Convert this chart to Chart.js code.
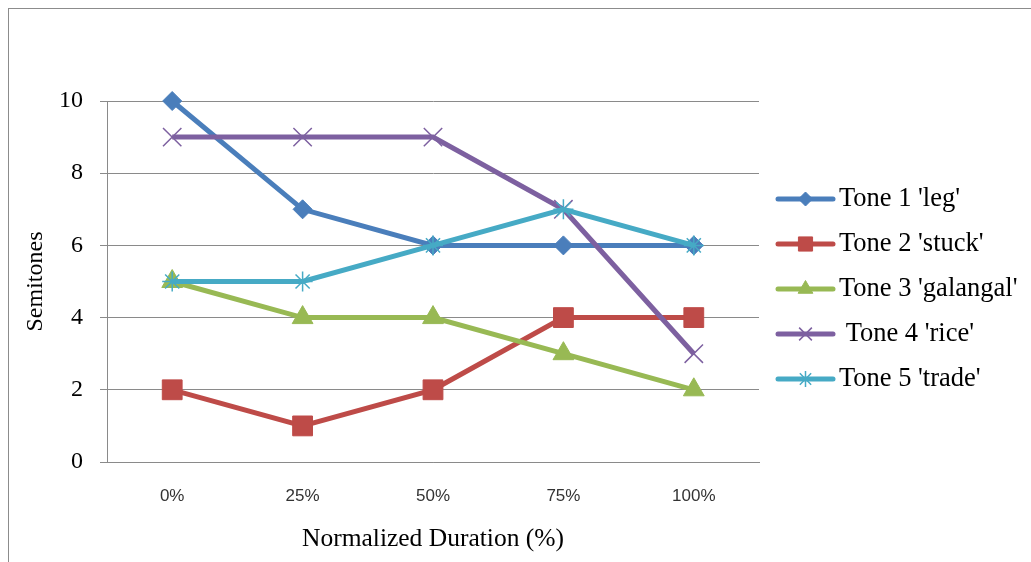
<!DOCTYPE html>
<html>
<head>
<meta charset="utf-8">
<script src="https://cdn.jsdelivr.net/npm/chart.js@4/dist/chart.umd.min.js"></script>
<style>
  html, body { margin: 0; padding: 0; background: #fff; }
  #wrap { width: 1031px; height: 562px; position: relative; }
</style>
</head>
<body>
<div id="wrap"><canvas id="c" width="1031" height="562"></canvas></div>
<script>
// Categories along the normalized duration axis
const durations = ['0%', '25%', '50%', '75%', '100%'];

// Pitch (semitones) for each tone
const tone1 = [10, 7, 6, 6, 6];
const tone2 = [2, 1, 2, 4, 4];
const tone3 = [5, 4, 4, 3, 2];
const tone4 = [9, 9, 9, 7, 3];
const tone5 = [5, 5, 6, 7, 6];

const toneLabels = ["Tone 1 'leg'", "Tone 2 'stuck'", "Tone 3 'galangal'", " Tone 4 'rice'", "Tone 5 'trade'"];
const yTicks = [0, 2, 4, 6, 8, 10];

const colors = ['#4A7EBB', '#BE4B48', '#98B954', '#7D60A0', '#46AAC5'];
const styles = [
  { pointStyle: 'rectRot', radius: 9.5, border: 1, legendRadius: 7 },
  { pointStyle: 'rect', radius: 14, border: 1, legendRadius: 10 },
  { pointStyle: 'triangle', radius: 12, border: 1, legendRadius: 8.5 },
  { pointStyle: 'crossRot', radius: 13, border: 1.5, legendRadius: 9 },
  { pointStyle: 'star', radius: 10, border: 1.5, legendRadius: 8 }
];
const series = [tone1, tone2, tone3, tone4, tone5];

const serif = '"Liberation Serif", "Times New Roman", serif';
const sans = '"Liberation Sans", Arial, sans-serif';
const gridGray = '#8a8a8a';

const datasets = series.map((vals, i) => ({
  label: toneLabels[i],
  data: vals,
  borderColor: colors[i],
  backgroundColor: colors[i],
  borderWidth: 5,
  tension: 0,
  pointStyle: styles[i].pointStyle,
  pointRadius: styles[i].radius,
  pointHoverRadius: styles[i].radius,
  pointBorderWidth: styles[i].border,
  pointBorderColor: colors[i],
  pointBackgroundColor: colors[i],
  clip: false,
  order: series.length - i
}));

// Frame around the whole figure and white backdrop
const framePlugin = {
  id: 'frame',
  beforeDraw(chart) {
    const ctx = chart.ctx;
    ctx.save();
    ctx.fillStyle = '#fff';
    ctx.fillRect(0, 0, chart.width, chart.height);
    ctx.strokeStyle = '#8c8c8c';
    ctx.lineWidth = 1;
    ctx.strokeRect(8.5, 8.5, chart.width + 20, chart.height + 20);
    ctx.restore();
  }
};

// Legend at the right: line segment with marker, then label
const sideLegend = {
  id: 'sideLegend',
  afterDraw(chart) {
    const ctx = chart.ctx;
    const x0 = 778, x1 = 833, textX = 839, y0 = 199, step = 45;
    ctx.save();
    chart.data.datasets.forEach((ds, i) => {
      const y = y0 + i * step;
      ctx.strokeStyle = colors[i];
      ctx.lineWidth = 5;
      ctx.lineCap = 'round';
      ctx.beginPath();
      ctx.moveTo(x0, y);
      ctx.lineTo(x1, y);
      ctx.stroke();
      ctx.lineCap = 'butt';
      ctx.fillStyle = colors[i];
      ctx.strokeStyle = colors[i];
      ctx.lineWidth = styles[i].border;
      Chart.helpers.drawPoint(ctx, {
        pointStyle: styles[i].pointStyle,
        radius: styles[i].legendRadius,
        rotation: 0,
        borderWidth: styles[i].border
      }, (x0 + x1) / 2, y);
      ctx.fillStyle = '#000';
      ctx.font = '26.5px ' + serif;
      ctx.textBaseline = 'middle';
      ctx.textAlign = 'left';
      ctx.fillText(ds.label, textX, y);
    });
    ctx.restore();
  }
};

new Chart(document.getElementById('c'), {
  type: 'line',
  data: { labels: durations, datasets },
  plugins: [framePlugin, sideLegend],
  options: {
    responsive: false,
    animation: false,
    devicePixelRatio: 1,
    layout: { padding: { left: 0, right: 272, top: 101, bottom: 0 } },
    plugins: { legend: { display: false }, tooltip: { enabled: false } },
    scales: {
      x: {
        offset: true,
        grid: { display: false, drawTicks: false },
        border: { display: true, color: gridGray, width: 1 },
        ticks: { color: '#333', font: { family: sans, size: 17 }, padding: 24, maxRotation: 0 },
        title: {
          display: true,
          text: 'Normalized Duration (%)',
          color: '#000',
          font: { family: serif, size: 25.5 },
          padding: { top: 0, bottom: 7 }
        },
        afterFit(scale) { scale.height = 100; }
      },
      y: {
        min: 0,
        max: 10,
        afterBuildTicks(scale) { scale.ticks = yTicks.map(v => ({ value: v })); },
        grid: { color: gridGray, lineWidth: 1, drawTicks: true, tickLength: 7, tickColor: gridGray },
        border: { display: true, color: gridGray, width: 1 },
        ticks: { color: '#000', font: { family: serif, size: 24 }, padding: 17 },
        title: {
          display: true,
          text: 'Semitones',
          color: '#000',
          font: { family: serif, size: 24 },
          padding: { top: 21, bottom: 0 }
        },
        afterFit(scale) { scale.width = 107; }
      }
    }
  }
});
</script>
</body>
</html>
